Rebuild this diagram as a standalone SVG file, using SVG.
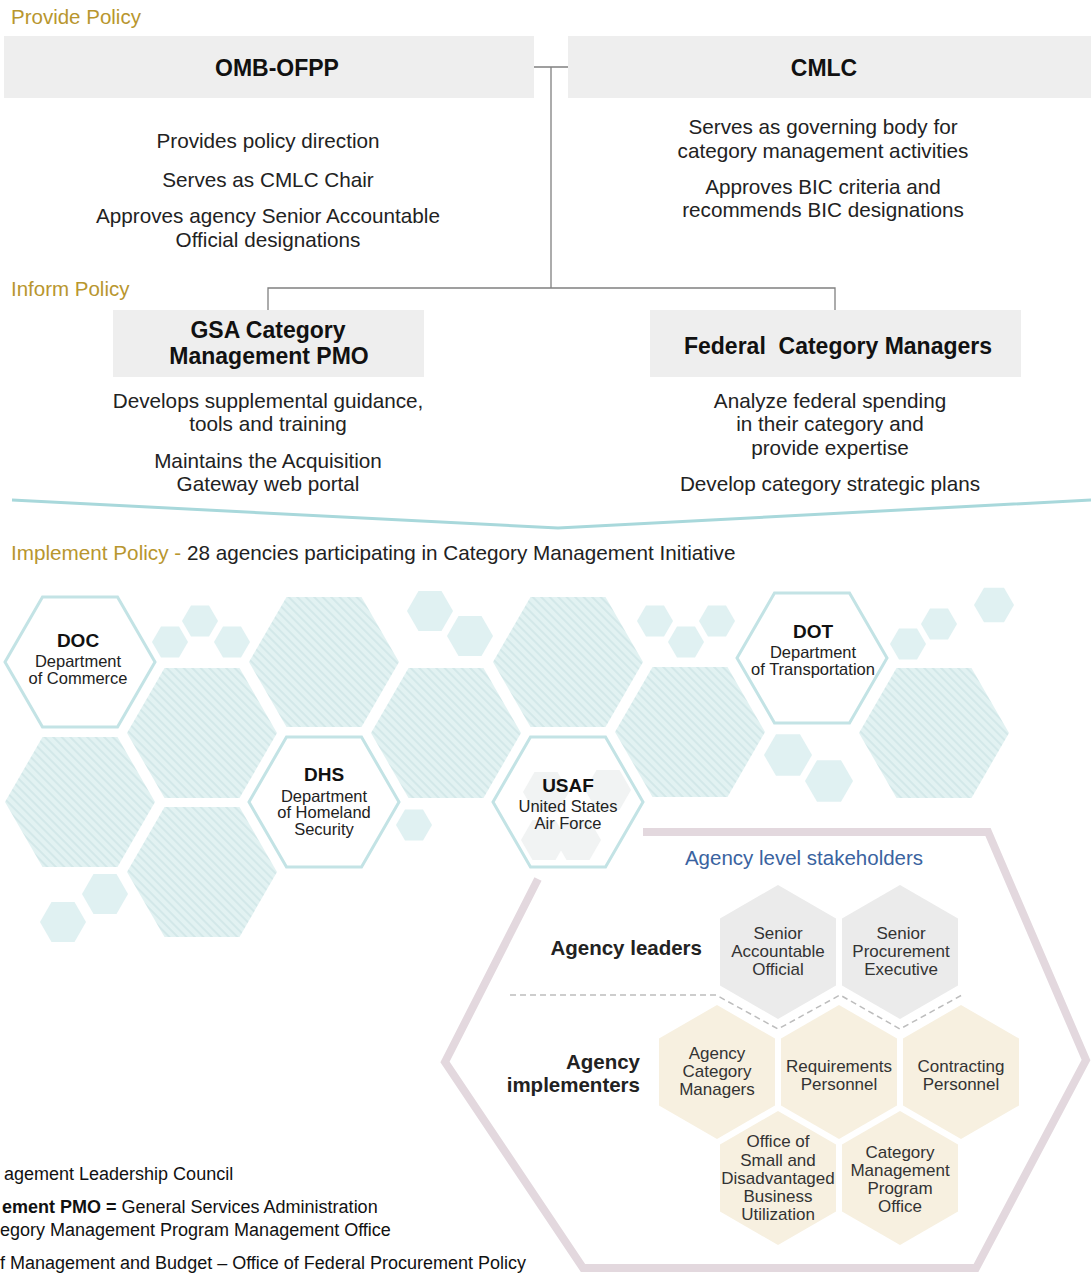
<svg xmlns="http://www.w3.org/2000/svg" xmlns:xlink="http://www.w3.org/1999/xlink" width="1091" height="1274" viewBox="0 0 1091 1274">
<defs>
<style>
text{font-family:"Liberation Sans",Arial,Helvetica,sans-serif;fill:#222}
.sec{font-size:20.5px;fill:#B8962E}
.title{font-size:23px;font-weight:bold;fill:#111;text-anchor:middle}
.body{font-size:20.7px;text-anchor:middle;fill:#222}
.box{fill:#EEEEEE}
.conn{stroke:#808080;stroke-width:1.3;fill:none}
.hatch{fill:url(#hp)}
.ring{fill:#fff;stroke:#C3E3E5;stroke-width:3}
.sm{fill:#E0F1F2}
.faint{fill:#F1F3F3}
.ab{font-size:19px;font-weight:bold;text-anchor:middle;fill:#111}
.an{font-size:16.5px;text-anchor:middle;fill:#222}
.lead{font-size:20.5px;font-weight:bold;text-anchor:end;fill:#222}
.gh{fill:#EBEBEB}
.th{fill:#F7F0E0}
.sl{font-size:17px;text-anchor:middle;fill:#333}
.leg{font-size:18px;fill:#111}
</style>
<pattern id="hp" width="6" height="6" patternUnits="userSpaceOnUse" patternTransform="rotate(-45)">
<rect width="6" height="6" fill="#E2F2F2"/>
<line x1="3" y1="0" x2="3" y2="6" stroke="#C9E2E3" stroke-width="1.2"/>
</pattern>
<polygon id="bh" points="-75,0 -37.5,-65 37.5,-65 75,0 37.5,65 -37.5,65"/>
<polygon id="ph" points="0,-67 58,-33.5 58,33.5 0,67 -58,33.5 -58,-33.5"/>
<polygon id="s18" points="-18,0 -9,-15.6 9,-15.6 18,0 9,15.6 -9,15.6"/>
<polygon id="s20" points="-20,0 -10,-17.3 10,-17.3 20,0 10,17.3 -10,17.3"/>
<polygon id="s23" points="-23,0 -11.5,-19.9 11.5,-19.9 23,0 11.5,19.9 -11.5,19.9"/>
<polygon id="s24" points="-24,0 -12,-20.8 12,-20.8 24,0 12,20.8 -12,20.8"/>
</defs>
<rect width="1091" height="1274" fill="#fff"/>

<text class="sec" x="11" y="24">Provide Policy</text>
<text class="sec" x="11" y="296">Inform Policy</text>

<g id="connectors">
<path class="conn" d="M534 67 H568 M551 67 V288 M268 310 V288 H835 V310"/>
<path d="M12 500 L558 528 L1091 500" fill="none" stroke="#A8D8DB" stroke-width="3"/>
</g>

<g id="omb-ofpp">
<rect class="box" x="4" y="36" width="530" height="62"/>
<text class="title" x="277" y="76">OMB-OFPP</text>
<text class="body" x="268" y="148">Provides policy direction</text>
<text class="body" x="268" y="187">Serves as CMLC Chair</text>
<text class="body" x="268" y="223">Approves agency Senior Accountable</text>
<text class="body" x="268" y="247">Official designations</text>
</g>

<g id="cmlc">
<rect class="box" x="568" y="36" width="523" height="62"/>
<text class="title" x="824" y="76">CMLC</text>
<text class="body" x="823" y="134">Serves as governing body for</text>
<text class="body" x="823" y="158">category management activities</text>
<text class="body" x="823" y="194">Approves BIC criteria and</text>
<text class="body" x="823" y="217">recommends BIC designations</text>
</g>

<g id="gsa-pmo">
<rect class="box" x="113" y="310" width="311" height="67"/>
<text class="title" x="268" y="338">GSA Category</text>
<text class="title" x="269" y="364">Management PMO</text>
<text class="body" x="268" y="408">Develops supplemental guidance,</text>
<text class="body" x="268" y="431">tools and training</text>
<text class="body" x="268" y="468">Maintains the Acquisition</text>
<text class="body" x="268" y="491">Gateway web portal</text>
</g>

<g id="federal-category-managers">
<rect class="box" x="650" y="310" width="371" height="67"/>
<text class="title" x="838" y="354">Federal&#160; Category Managers</text>
<text class="body" x="830" y="408">Analyze federal spending</text>
<text class="body" x="830" y="431">in their category and</text>
<text class="body" x="830" y="455">provide expertise</text>
<text class="body" x="830" y="491">Develop category strategic plans</text>
</g>

<text x="11" y="560" font-size="20.7"><tspan fill="#B8962E">Implement Policy - </tspan><tspan fill="#222">28 agencies participating in Category Management Initiative</tspan></text>

<g id="honeycomb">
<use xlink:href="#bh" class="hatch" x="202" y="733"/>
<use xlink:href="#bh" class="hatch" x="80" y="802"/>
<use xlink:href="#bh" class="hatch" x="202" y="872"/>
<use xlink:href="#bh" class="hatch" x="324" y="662"/>
<use xlink:href="#bh" class="hatch" x="446" y="733"/>
<use xlink:href="#bh" class="hatch" x="568" y="662"/>
<use xlink:href="#bh" class="hatch" x="690" y="732"/>
<use xlink:href="#bh" class="hatch" x="934" y="733"/>
<use xlink:href="#s18" class="sm" x="170" y="642"/>
<use xlink:href="#s18" class="sm" x="200" y="621"/>
<use xlink:href="#s18" class="sm" x="232" y="642"/>
<use xlink:href="#s23" class="sm" x="105" y="894"/>
<use xlink:href="#s23" class="sm" x="63" y="922"/>
<use xlink:href="#s18" class="sm" x="414" y="825"/>
<use xlink:href="#s23" class="sm" x="430" y="611"/>
<use xlink:href="#s23" class="sm" x="470" y="636"/>
<use xlink:href="#s18" class="sm" x="655" y="621"/>
<use xlink:href="#s18" class="sm" x="686" y="642"/>
<use xlink:href="#s18" class="sm" x="717" y="621"/>
<use xlink:href="#s18" class="sm" x="908" y="644"/>
<use xlink:href="#s18" class="sm" x="939" y="624"/>
<use xlink:href="#s20" class="sm" x="994" y="605"/>
<use xlink:href="#s24" class="sm" x="788" y="755"/>
<use xlink:href="#s24" class="sm" x="829" y="781"/>
</g>

<g id="doc">
<use xlink:href="#bh" class="ring" x="80" y="662"/>
<text class="ab" x="78" y="647">DOC</text>
<text class="an" x="78" y="667">Department</text>
<text class="an" x="78" y="684">of Commerce</text>
</g>

<g id="dhs">
<use xlink:href="#bh" class="ring" x="324" y="802"/>
<text class="ab" x="324" y="781">DHS</text>
<text class="an" x="324" y="802">Department</text>
<text class="an" x="324" y="818">of Homeland</text>
<text class="an" x="324" y="835">Security</text>
</g>

<g id="usaf">
<use xlink:href="#bh" class="ring" x="568" y="802"/>
<use xlink:href="#s23" class="faint" x="546" y="792"/>
<use xlink:href="#s23" class="faint" x="608" y="790"/>
<use xlink:href="#s23" class="faint" x="544" y="840"/>
<use xlink:href="#s23" class="faint" x="578" y="840"/>
<text class="ab" x="568" y="792">USAF</text>
<text class="an" x="568" y="812">United States</text>
<text class="an" x="568" y="829">Air Force</text>
</g>

<g id="dot">
<use xlink:href="#bh" class="ring" x="812" y="658"/>
<text class="ab" x="813" y="638">DOT</text>
<text class="an" x="813" y="658">Department</text>
<text class="an" x="813" y="675">of Transportation</text>
</g>

<g id="agency-stakeholders">
<path d="M538 879 L445 1062 L583 1268 L976 1268 L1086 1060 L988 832 L643 832" fill="none" stroke="#E3D8DE" stroke-width="8" stroke-linejoin="miter"/>
<text x="804" y="865" font-size="20.5" text-anchor="middle" style="fill:#3A63A0">Agency level stakeholders</text>
<text class="lead" x="702" y="955">Agency leaders</text>
<text class="lead" x="640" y="1069">Agency</text>
<text class="lead" x="640" y="1092">implementers</text>
<path d="M510 995 L716 995 L778 1029 L840 995 L900 1029 L962 995" fill="none" stroke="#BDBDBD" stroke-width="1.5" stroke-dasharray="6 4"/>
</g>

<g id="senior-accountable-official">
<use xlink:href="#ph" class="gh" x="778" y="952"/>
<text class="sl" x="778" y="939">Senior</text>
<text class="sl" x="778" y="957">Accountable</text>
<text class="sl" x="778" y="975">Official</text>
</g>
<g id="senior-procurement-executive">
<use xlink:href="#ph" class="gh" x="900" y="952"/>
<text class="sl" x="901" y="939">Senior</text>
<text class="sl" x="901" y="957">Procurement</text>
<text class="sl" x="901" y="975">Executive</text>
</g>
<g id="agency-category-managers">
<use xlink:href="#ph" class="th" x="717" y="1072"/>
<text class="sl" x="717" y="1059">Agency</text>
<text class="sl" x="717" y="1077">Category</text>
<text class="sl" x="717" y="1095">Managers</text>
</g>
<g id="requirements-personnel">
<use xlink:href="#ph" class="th" x="839" y="1072"/>
<text class="sl" x="839" y="1072">Requirements</text>
<text class="sl" x="839" y="1090">Personnel</text>
</g>
<g id="contracting-personnel">
<use xlink:href="#ph" class="th" x="961" y="1072"/>
<text class="sl" x="961" y="1072">Contracting</text>
<text class="sl" x="961" y="1090">Personnel</text>
</g>
<g id="osdbu">
<use xlink:href="#ph" class="th" x="778" y="1178"/>
<text class="sl" x="778" y="1147">Office of</text>
<text class="sl" x="778" y="1166">Small and</text>
<text class="sl" x="778" y="1184">Disadvantaged</text>
<text class="sl" x="778" y="1202">Business</text>
<text class="sl" x="778" y="1220">Utilization</text>
</g>
<g id="category-management-program-office">
<use xlink:href="#ph" class="th" x="900" y="1178"/>
<text class="sl" x="900" y="1158">Category</text>
<text class="sl" x="900" y="1176">Management</text>
<text class="sl" x="900" y="1194">Program</text>
<text class="sl" x="900" y="1212">Office</text>
</g>

<g id="legend">
<text class="leg" x="4" y="1180">agement Leadership Council</text>
<text class="leg" x="2" y="1213"><tspan font-weight="bold">ement PMO =</tspan> General Services Administration</text>
<text class="leg" x="0" y="1236">egory Management Program Management Office</text>
<text class="leg" x="0" y="1269">f Management and Budget – Office of Federal Procurement Policy</text>
</g>
</svg>
